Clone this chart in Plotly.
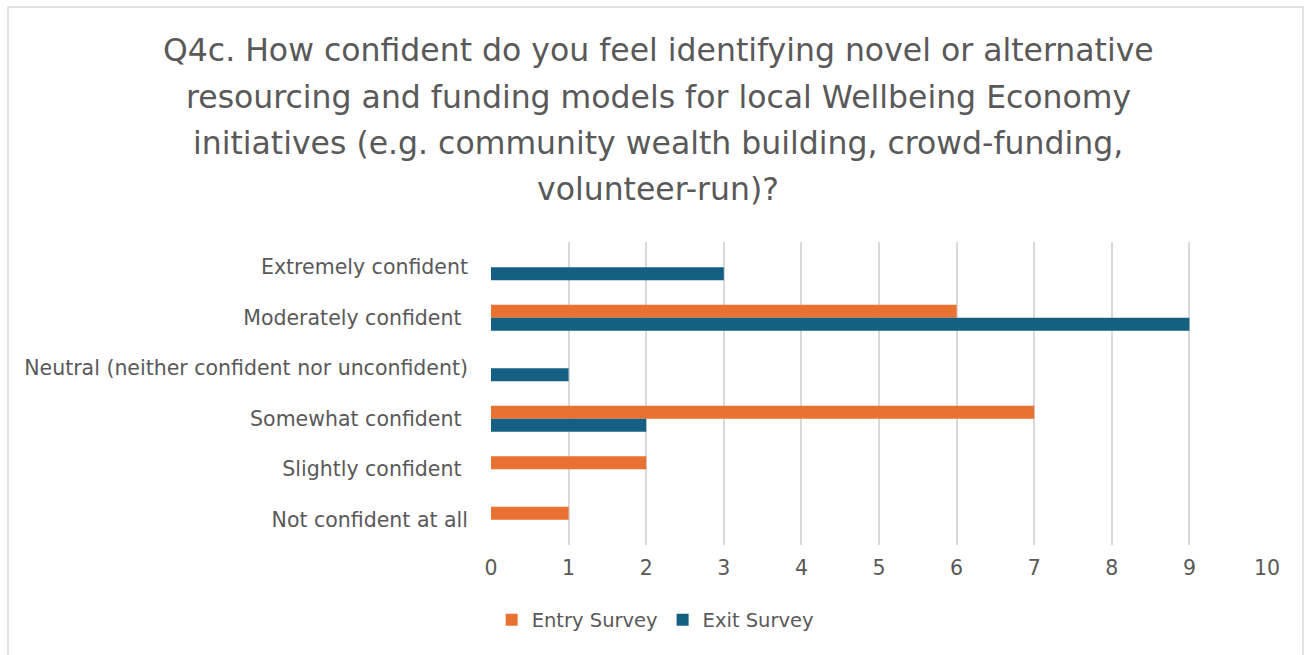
import plotly.graph_objects as go

# Survey responses (count of respondents)
categories = [
    "Extremely confident",
    "Moderately confident\u00a0",
    "Neutral (neither confident nor unconfident)",
    "Somewhat confident\u00a0",
    "Slightly confident\u00a0",
    "Not confident at all",
]
entry_survey = [0, 6, 0, 7, 2, 1]
exit_survey = [3, 9, 1, 2, 0, 0]
x_ticks = [0, 1, 2, 3, 4, 5, 6, 7, 8, 9, 10]

title_lines = [
    "Q4c. How confident do you feel identifying novel or alternative",
    "resourcing and funding models for local Wellbeing Economy",
    "initiatives (e.g. community wealth building, crowd-funding,",
    "volunteer-run)?",
]

ORANGE = "#E97132"
BLUE = "#156082"
TEXT = "#595959"
GRID = "#D9D9D9"
FONT = "DejaVu Sans"

W, H = 1313, 655
ML, MR, MT, MB = 491, 46, 242, 110
PW, PH = W - ML - MR, H - MT - MB


def px_x(px):
    return (px - ML) / PW


def px_y(py):
    return (H - MB - py) / PH


fig = go.Figure()
fig.add_trace(go.Bar(
    y=categories, x=entry_survey, orientation="h", name="Entry Survey",
    marker=dict(color=ORANGE, line=dict(width=0)),
))
fig.add_trace(go.Bar(
    y=categories, x=exit_survey, orientation="h", name="Exit Survey",
    marker=dict(color=BLUE, line=dict(width=0)),
))

# chart frame
fig.add_shape(
    type="rect", xref="paper", yref="paper",
    x0=px_x(8), x1=px_x(1303), y0=px_y(670), y1=px_y(7),
    line=dict(color=GRID, width=1.5), fillcolor="rgba(0,0,0,0)", layer="below",
)

# title, one annotation per line
title_y = [50, 97, 143, 189]
for line, ty in zip(title_lines, title_y):
    fig.add_annotation(
        text=line, xref="paper", yref="paper", x=px_x(658), y=px_y(ty),
        xanchor="center", yanchor="middle", showarrow=False,
        font=dict(family=FONT, size=31.5, color=TEXT),
    )

fig.update_layout(
    width=W, height=H,
    margin=dict(l=ML, r=MR, t=MT, b=MB, pad=0),
    paper_bgcolor="white", plot_bgcolor="white",
    barmode="group", bargap=0.485, bargroupgap=0,
    font=dict(family=FONT, color=TEXT, size=20),
    showlegend=True,
    legend=dict(
        orientation="h", xref="container", yref="container",
        x=0.499, y=(H - 620) / H, xanchor="center", yanchor="middle",
        font=dict(family=FONT, size=19.5, color=TEXT),
        traceorder="normal", itemwidth=30,
    ),
    xaxis=dict(
        range=[0, 10], tickvals=x_ticks, showgrid=True, gridcolor=GRID,
        gridwidth=1.5, zeroline=False, showline=False,
        tickfont=dict(size=20.5, color=TEXT), ticks="", ticklabelstandoff=8,
    ),
    yaxis=dict(
        autorange="reversed", showgrid=False, zeroline=False, showline=False,
        tickfont=dict(size=20.5, color=TEXT), ticks="", ticklabelstandoff=22,
    ),
)

fig.write_html("out.html")
